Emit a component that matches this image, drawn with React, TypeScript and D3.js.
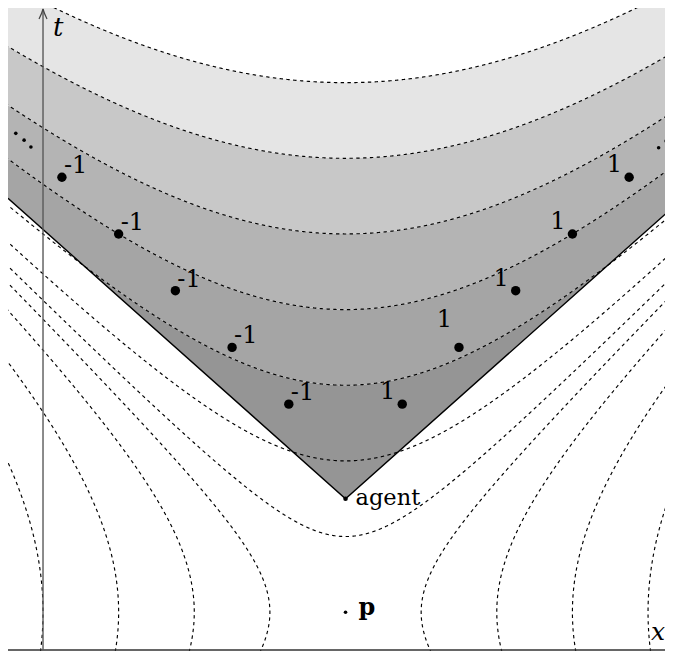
import React, { useEffect, useRef } from "react";
import * as d3 from "d3";

const W = 665;
const H = 643;

// events, in diagram units
const eventP = { x: 4, t: 0.5 };
const agent = { x: 4, t: 2 };
const coneSlope = 0.89;

// level curves of the interval measured from p
const timelikeLevels = [1, 2, 3, 4, 5, 6, 7];
const spacelikeLevels = [1, 2, 3, 4];

// shaded bands inside the agent's cone (between these levels)
const bandEdges = [0, 3, 4, 5, 6, 7];
const bandShades = ["#959595", "#a5a5a5", "#b4b4b4", "#c8c8c8", "#e5e5e5"];

const leftDots = [[3.25, 3.25], [2.5, 4], [1.75, 4.75], [1, 5.5], [0.25, 6.25]];
const rightDots = [[4.75, 3.25], [5.5, 4], [6.25, 4.75], [7, 5.5], [7.75, 6.25]];
const leftLabel = "-1";
const rightLabel = "1";

const leftEllipsis = [[-0.36, 6.83], [-0.25, 6.74], [-0.16, 6.65]];
const rightEllipsis = [[8.14, 6.64], [8.24, 6.73], [8.33, 6.82]];

const FONT = "'DejaVu Serif', serif";

const draw = (node: SVGSVGElement) => {
  const svg = d3.select(node);
  svg.selectAll("*").remove();

  const x = d3.scaleLinear().domain([-0.463, 8.33]).range([0, W]);
  const t = d3.scaleLinear().domain([0, 8.487]).range([642, 0]);

  svg
    .append("defs")
    .append("clipPath")
    .attr("id", "plot")
    .append("rect")
    .attr("width", W)
    .attr("height", 643);

  const g = svg.append("g").attr("clip-path", "url(#plot)");

  const hyp = (tau: number, xx: number) =>
    eventP.t + Math.sqrt((xx - eventP.x) ** 2 + tau * tau);
  const cone = (xx: number) => agent.t + coneSlope * Math.abs(xx - agent.x);

  const xs = d3.range(-0.5, 8.4, 0.004).concat([agent.x]).sort((a, b) => a - b);

  // bands
  bandShades.forEach((shade, i) => {
    const lo = bandEdges[i];
    const hi = bandEdges[i + 1];
    const lower = (xx: number) => Math.max(cone(xx), lo > 0 ? hyp(lo, xx) : -Infinity);
    const area = d3
      .area<number>()
      .x(d => x(d))
      .y0(d => t(lower(d)))
      .y1(d => t(Math.max(lower(d), hyp(hi, d))));
    g.append("path").attr("d", area(xs)).attr("fill", shade).attr("stroke", "none");
  });

  const line = d3
    .line<number[]>()
    .x(d => x(d[0]))
    .y(d => t(d[1]));

  const dashed = (sel: any) =>
    sel
      .attr("fill", "none")
      .attr("stroke", "#000")
      .attr("stroke-width", 1.15)
      .attr("stroke-dasharray", "3.4,3.4");

  // timelike hyperbolas
  timelikeLevels.forEach(tau => {
    g.append("path")
      .attr("d", line(xs.map(xx => [xx, hyp(tau, xx)])))
      .call(dashed);
  });

  // spacelike hyperbolas
  const ts = d3.range(-0.2, 8.7, 0.004);
  spacelikeLevels.forEach(d => {
    [-1, 1].forEach(side => {
      g.append("path")
        .attr(
          "d",
          line(ts.map(tt => [eventP.x + side * Math.sqrt(d * d + (tt - eventP.t) ** 2), tt]))
        )
        .call(dashed);
    });
  });

  // the agent's cone
  const xL = x.domain()[0];
  const xR = x.domain()[1];
  g.append("path")
    .attr(
      "d",
      line([
        [xL, cone(xL)],
        [agent.x, agent.t],
        [xR, cone(xR)]
      ])
    )
    .attr("fill", "none")
    .attr("stroke", "#000")
    .attr("stroke-width", 1.4);

  // axes
  g.append("line")
    .attr("x1", 0)
    .attr("x2", W)
    .attr("y1", t(0))
    .attr("y2", t(0))
    .attr("stroke", "#333")
    .attr("stroke-width", 1.3);

  g.append("line")
    .attr("x1", x(0))
    .attr("x2", x(0))
    .attr("y1", t(0))
    .attr("y2", 1)
    .attr("stroke", "#5a5a5a")
    .attr("stroke-width", 1.4);
  g.append("path")
    .attr("d", `M${x(0) - 4},${11} Q${x(0) - 1},${5} ${x(0)},${1} Q${x(0) + 1},${5} ${x(0) + 4},${11}`)
    .attr("fill", "none")
    .attr("stroke", "#444")
    .attr("stroke-width", 1.2);

  // dots and their labels
  leftDots.forEach(([dx, dt]) => {
    g.append("circle").attr("cx", x(dx)).attr("cy", t(dt)).attr("r", 4.7).attr("fill", "#000");
    g.append("text")
      .attr("x", x(dx) + 2)
      .attr("y", t(dt) - 4)
      .attr("font-family", FONT)
      .attr("font-size", 24)
      .text(leftLabel);
  });
  rightDots.forEach(([dx, dt], i) => {
    g.append("circle").attr("cx", x(dx)).attr("cy", t(dt)).attr("r", 4.7).attr("fill", "#000");
    g.append("text")
      .attr("x", x(dx) - 7)
      .attr("y", t(dt) - 5 - (i === 1 ? 15 : 0))
      .attr("text-anchor", "end")
      .attr("font-family", FONT)
      .attr("font-size", 24)
      .text(rightLabel);
  });

  leftEllipsis.concat(rightEllipsis).forEach(([dx, dt]) => {
    g.append("circle").attr("cx", x(dx)).attr("cy", t(dt)).attr("r", 1.8).attr("fill", "#000");
  });

  // events
  g.append("circle").attr("cx", x(agent.x)).attr("cy", t(agent.t)).attr("r", 2.3).attr("fill", "#000");
  g.append("text")
    .attr("x", x(agent.x) + 10)
    .attr("y", t(agent.t) + 6)
    .attr("font-family", FONT)
    .attr("font-size", 22.5)
    .text("agent");

  g.append("circle").attr("cx", x(eventP.x)).attr("cy", t(eventP.t)).attr("r", 1.8).attr("fill", "#000");
  g.append("text")
    .attr("x", x(eventP.x) + 13)
    .attr("y", t(eventP.t) + 3)
    .attr("font-family", FONT)
    .attr("font-weight", "bold")
    .attr("font-size", 24)
    .text("p");

  g.append("text")
    .attr("x", x(0) + 10)
    .attr("y", 28)
    .attr("font-family", FONT)
    .attr("font-style", "italic")
    .attr("font-size", 26)
    .text("t");
  g.append("text")
    .attr("x", W - 22)
    .attr("y", t(0) - 10)
    .attr("font-family", FONT)
    .attr("font-style", "italic")
    .attr("font-size", 25)
    .text("x");
};

function App() {
  const ref = useRef<SVGSVGElement>(null);
  useEffect(() => {
    if (ref.current) draw(ref.current);
  }, []);
  return <svg ref={ref} width={W} height={H} style={{ display: "block" }} />;
}

export default App;
